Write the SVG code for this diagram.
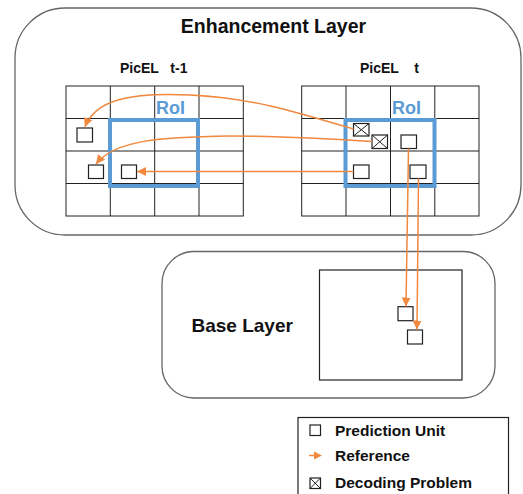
<svg xmlns="http://www.w3.org/2000/svg" width="523" height="494" viewBox="0 0 523 494">
<style>
.layer{fill:#fff;stroke:#666;stroke-width:1.3}
.grid{fill:none;stroke:#222;stroke-width:1}
.roi{fill:none;stroke:#5B9BD5;stroke-width:4}
.roit{font-family:"Liberation Sans",Arial,sans-serif;font-weight:bold;font-size:18px;fill:#5B9BD5}
.pu{fill:#fff;stroke:#222;stroke-width:1.2}
.x{stroke:#222;stroke-width:1}
.t{font-family:"Liberation Sans",Arial,sans-serif;font-weight:bold;fill:#111}
.arr{fill:none;stroke:#F0883E;stroke-width:1.5;marker-end:url(#ah)}
</style>
<defs>
<marker id="ah" markerWidth="10" markerHeight="10" refX="9" refY="5" orient="auto" markerUnits="userSpaceOnUse">
<path d="M0,0.5 L9,5 L0,9.5 Z" fill="#F0883E"/>
</marker>
</defs>
<rect width="523" height="494" fill="#fff"/>
<g id="enhancement-layer">
<rect class="layer" x="15" y="8" width="506" height="227" rx="50" ry="50"/>
<text class="t" x="273.5" y="33" font-size="19.5" text-anchor="middle">Enhancement Layer</text>
<text class="t" x="120" y="73" font-size="14" xml:space="preserve">PicEL   t-1</text>
<text class="t" x="360" y="73" font-size="14" xml:space="preserve">PicEL    t</text>
</g>
<g id="grid-t-1">
<rect class="grid" x="66" y="86" width="177.3" height="130"/>
<path class="grid" d="M110.3,86V216M154.7,86V216M199,86V216M66,118.5H243.3M66,151H243.3M66,183.5H243.3"/>
<rect class="roi" x="110" y="120" width="88" height="66"/>
<text class="roit" x="156" y="114">RoI</text>
<rect class="pu" x="77" y="128" width="15.5" height="14"/>
<rect class="pu" x="88.5" y="165" width="15" height="13.5"/>
<rect class="pu" x="121.5" y="165" width="15" height="13.5"/>
</g>
<g id="grid-t">
<rect class="grid" x="301.7" y="86" width="177.3" height="130"/>
<path class="grid" d="M346,86V216M390.5,86V216M434.8,86V216M301.7,118.5H479M301.7,151H479M301.7,183.5H479"/>
<rect class="roi" x="345.5" y="120" width="89" height="66"/>
<text class="roit" x="392" y="114">RoI</text>
<g>
<rect class="pu" x="353.5" y="123.5" width="15.5" height="12.5"/>
<path class="x" d="M353.5,123.5L369,136M369,123.5L353.5,136"/>
</g>
<g>
<rect class="pu" x="372" y="135" width="15.5" height="13.5"/>
<path class="x" d="M372,135L387.5,148.5M387.5,135L372,148.5"/>
</g>
<rect class="pu" x="401" y="135" width="15.5" height="13.5"/>
<rect class="pu" x="353.5" y="165" width="15.5" height="13.5"/>
<rect class="pu" x="410" y="165" width="16" height="13.5"/>
</g>
<g id="base-layer">
<rect class="layer" x="162" y="251.5" width="333" height="146.5" rx="32" ry="32"/>
<text class="t" x="191.5" y="332" font-size="19">Base Layer</text>
<rect fill="#fff" stroke="#222" stroke-width="1.2" x="319.5" y="270" width="142.5" height="110"/>
<rect class="pu" x="398" y="306.7" width="15" height="14"/>
<rect class="pu" x="407.5" y="330" width="15" height="14"/>
</g>
<g id="connectors">
<path class="arr" d="M353.5,129 C290,110 250,98 190,95 C130,92 95,100 85,127"/>
<path class="arr" d="M372,141.5 C320,138 280,136 230,136 C160,137 115,140 96,164"/>
<path class="arr" d="M353.5,171.5 L137,171.5"/>
<path class="arr" d="M408.5,148.5 L406,306.5"/>
<path class="arr" d="M418.5,178.5 L417,329.5"/>
</g>
<g id="legend">
<rect fill="#fff" stroke="#222" stroke-width="1.2" x="298" y="417.5" width="210.5" height="80"/>
<rect class="pu" x="310" y="425" width="10.5" height="10.5"/>
<text class="t" x="335" y="436" font-size="15.5">Prediction Unit</text>
<path fill="none" stroke="#F0883E" stroke-width="1.5" d="M309,455.5H316"/>
<path d="M314,451.5 L322,455.5 L314,459.5 Z" fill="#F0883E"/>
<text class="t" x="335" y="461" font-size="15.5">Reference</text>
<rect class="pu" x="310" y="478" width="10.5" height="10.5"/>
<path class="x" d="M310,478L320.5,488.5M320.5,478L310,488.5"/>
<text class="t" x="335" y="488" font-size="15.5">Decoding Problem</text>
</g>
</svg>
